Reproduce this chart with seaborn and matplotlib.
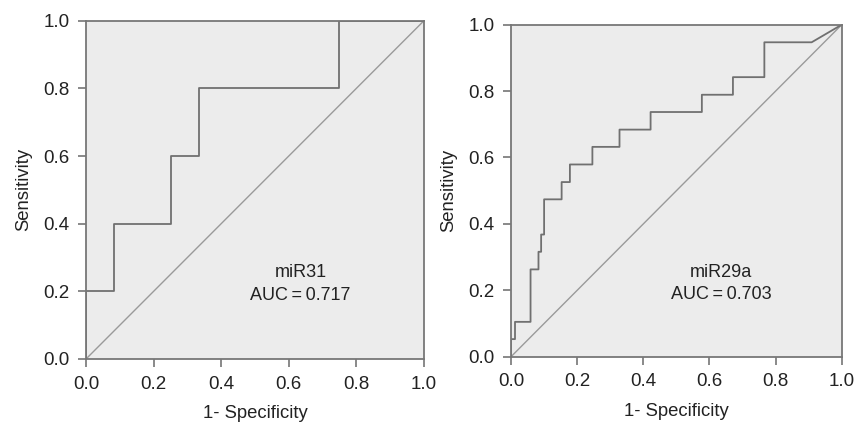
import numpy as np
import pandas as pd
import seaborn as sns
import matplotlib
matplotlib.use('Agg')
import matplotlib.pyplot as plt

# ROC points (1 - specificity, sensitivity)
mir31_fpr = [0.0, 0.0, 0.083, 0.083, 0.25, 0.25, 0.333, 0.333, 0.75, 0.75, 1.0]
mir31_tpr = [0.0, 0.2, 0.2, 0.4, 0.4, 0.6, 0.6, 0.8, 0.8, 1.0, 1.0]

mir29a_fpr = [0.0, 0.0, 0.012, 0.012, 0.059, 0.059, 0.083, 0.083, 0.091, 0.091,
              0.1, 0.1, 0.153, 0.153, 0.178, 0.178, 0.246, 0.246, 0.328, 0.328,
              0.422, 0.422, 0.577, 0.577, 0.671, 0.671, 0.766, 0.766, 0.909, 1.0]
mir29a_tpr = [0.0, 0.053, 0.053, 0.105, 0.105, 0.263, 0.263, 0.316, 0.316, 0.368,
              0.368, 0.474, 0.474, 0.526, 0.526, 0.579, 0.579, 0.632, 0.632, 0.684,
              0.684, 0.737, 0.737, 0.789, 0.789, 0.842, 0.842, 0.947, 0.947, 1.0]

names = ['miR31', 'miR29a']
aucs = ['0.717', '0.703']
ticks = [0.0, 0.2, 0.4, 0.6, 0.8, 1.0]
tick_labels = ['0.0', '0.2', '0.4', '0.6', '0.8', '1.0']

sns.set_style('ticks')
plt.rcParams['font.family'] = ['Liberation Sans', 'DejaVu Sans']

fig = plt.figure(figsize=(8.55, 4.22), dpi=100)
ax1 = fig.add_axes([0.1006, 0.1493, 0.3953, 0.8017])
ax2 = fig.add_axes([0.5977, 0.1547, 0.3868, 0.7868])

curves = [(mir31_fpr, mir31_tpr), (mir29a_fpr, mir29a_tpr)]
for ax, (fpr, tpr), name, auc in zip([ax1, ax2], curves, names, aucs):
    df = pd.DataFrame({'fpr': fpr, 'tpr': tpr})
    ax.set_facecolor('#ececec')
    ax.plot([0, 1], [0, 1], color='#9a9a9a', lw=1.0, zorder=2)
    sns.lineplot(data=df, x='fpr', y='tpr', sort=False, estimator=None,
                 color='#707070', lw=1.3, ax=ax, zorder=3)
    ax.set_xlim(0, 1)
    ax.set_ylim(0, 1)
    ax.set_xticks(ticks)
    ax.set_xticklabels(tick_labels)
    ax.set_yticks(ticks)
    ax.set_yticklabels(tick_labels)
    for s in ax.spines.values():
        s.set_color('#777777')
        s.set_linewidth(1.3)
        s.set_zorder(4)
    ax.tick_params(direction='out', length=6, width=1.3, color='#808080',
                   labelsize=13.5, labelcolor='#222222', pad=6)
    ax.set_xlabel('1- Specificity', fontsize=13.3, color='#222222', labelpad=9)
    ax.set_ylabel('Sensitivity', fontsize=13.3, color='#222222', labelpad=8)
    ax.text(0.635, 0.255, name, transform=ax.transAxes, ha='center', va='center',
            fontsize=13, color='#222222')
    ax.text(0.635, 0.188, 'AUC\u2009=\u20090' + auc[1:], transform=ax.transAxes,
            ha='center', va='center', fontsize=13, color='#222222')

fig.savefig('out.png', dpi=100)
